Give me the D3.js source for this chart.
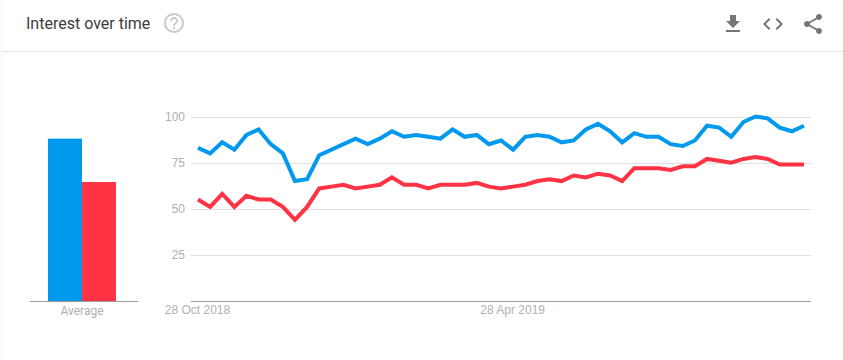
<!DOCTYPE html>
<html>
<head>
<meta charset="utf-8">
<script src="https://cdn.jsdelivr.net/npm/d3@7"></script>
<style>
  html, body { margin: 0; padding: 0; background: #fff; }
  svg { display: block; font-family: Roboto, sans-serif; }
  .tick text { fill: #b0b0b0; font-size: 12px; }
  .domain { display: none; }
</style>
</head>
<body>
<div id="chart"></div>
<script>
const title = "Interest over time";
const seriesColors = ["#0099ee", "#ff3344"];
const weekIndex = d3.range(51);
const blueValues = [83, 80, 86, 82, 90, 93, 85, 80, 65, 66, 79, 82, 85, 88, 85, 88, 92, 89, 90, 89, 88, 93, 89, 90, 85, 87, 82, 89, 90, 89, 86, 87, 93, 96, 92, 86, 91, 89, 89, 85, 84, 87, 95, 94, 89, 97, 100, 99, 94, 92, 95];
const redValues = [55, 51, 58, 51, 57, 55, 55, 51, 44, 51, 61, 62, 63, 61, 62, 63, 67, 63, 63, 61, 63, 63, 63, 64, 62, 61, 62, 63, 65, 66, 65, 68, 67, 69, 68, 65, 72, 72, 72, 71, 73, 73, 77, 76, 75, 77, 78, 77, 74, 74, 74];
const averages = [88, 64.5];
const averageLabel = "Average";
const yTicks = [25, 50, 75, 100];
const xTickWeeks = [0, 26];
const xTickLabels = ["28 Oct 2018", "28 Apr 2019"];

const width = 843, height = 360;
const svg = d3.select("#chart").append("svg")
  .attr("width", width)
  .attr("height", height);

const y = d3.scaleLinear().domain([0, 100]).range([301, 116.5]);
const x = d3.scaleLinear().domain([0, 50]).range([198, 804]);
const barX = d3.scaleBand().domain([0, 1]).range([48, 116]);

// card edges and header
svg.append("line").attr("x1", 1.5).attr("x2", 1.5).attr("y1", 0).attr("y2", height)
  .attr("stroke", "#f2f2f2");
svg.append("line").attr("x1", 2).attr("x2", width).attr("y1", 51.5).attr("y2", 51.5)
  .attr("stroke", "#e4e4e4");

svg.append("text")
  .attr("x", 26).attr("y", 29)
  .attr("font-size", 16)
  .attr("fill", "#3c3c3c")
  .text(title);

const icons = [
  { x: 162, y: 11, fill: "#cccccc", d: "M11 18h2v-2h-2v2zm1-16C6.48 2 2 6.48 2 12s4.48 10 10 10 10-4.48 10-10S17.52 2 12 2zm0 18c-4.41 0-8-3.59-8-8s3.59-8 8-8 8 3.59 8 8-3.59 8-8 8zm0-14c-2.21 0-4 1.79-4 4h2c0-1.1.9-2 2-2s2 .9 2 2c0 2-3 1.75-3 5h2c0-2.25 3-2.5 3-5 0-2.21-1.79-4-4-4z" },
  { x: 721, y: 12, fill: "#757575", d: "M19 9h-4V3H9v6H5l7 7 7-7zM5 18v2h14v-2H5z" },
  { x: 761, y: 12, fill: "#757575", d: "M9.4 16.6L4.8 12l4.6-4.6L8 6l-6 6 6 6 1.4-1.4zm5.2 0l4.6-4.6-4.6-4.6L16 6l6 6-6 6-1.4-1.4z" },
  { x: 801, y: 12, fill: "#757575", d: "M18 16.08c-.76 0-1.44.3-1.96.77L8.91 12.7c.05-.23.09-.46.09-.7s-.04-.47-.09-.7l7.05-4.11c.54.5 1.25.81 2.04.81 1.66 0 3-1.34 3-3s-1.34-3-3-3-3 1.34-3 3c0 .24.04.47.09.7L8.04 9.81C7.5 9.31 6.79 9 6 9c-1.66 0-3 1.34-3 3s1.34 3 3 3c.79 0 1.5-.31 2.04-.81l7.12 4.16c-.05.21-.08.43-.08.65 0 1.61 1.31 2.92 2.92 2.92 1.61 0 2.92-1.31 2.92-2.92s-1.31-2.92-2.92-2.92z" }
];
svg.selectAll(".icon")
  .data(icons)
  .join("path")
  .attr("class", "icon")
  .attr("transform", d => `translate(${d.x},${d.y})`)
  .attr("fill", d => d.fill)
  .attr("d", d => d.d);

// y axis with gridlines
const yAxis = svg.append("g")
  .attr("transform", "translate(191,0)")
  .call(d3.axisLeft(y).tickValues(yTicks).tickSize(0).tickPadding(6));
svg.selectAll(".grid")
  .data(yTicks)
  .join("line")
  .attr("class", "grid")
  .attr("x1", 191).attr("x2", 811)
  .attr("y1", d => Math.round(y(d)) + 0.5)
  .attr("y2", d => Math.round(y(d)) + 0.5)
  .attr("stroke", "#e0e0e0");

// x axis
svg.append("g")
  .attr("transform", "translate(-1,301)")
  .call(d3.axisBottom(x)
    .tickValues(xTickWeeks)
    .tickFormat((d, i) => xTickLabels[i])
    .tickSize(0)
    .tickPadding(4));
svg.append("line").attr("x1", 191).attr("x2", 811).attr("y1", 301.5).attr("y2", 301.5)
  .attr("stroke", "#9e9e9e");

const line = d3.line()
  .x((d, i) => x(weekIndex[i]))
  .y(d => y(d));

svg.selectAll(".series")
  .data([blueValues, redValues])
  .join("path")
  .attr("class", "series")
  .attr("fill", "none")
  .attr("stroke", (d, i) => seriesColors[i])
  .attr("stroke-width", 4)
  .attr("stroke-linejoin", "miter")
  .attr("d", line);

// average bars
svg.selectAll(".avg-bar")
  .data(averages)
  .join("rect")
  .attr("class", "avg-bar")
  .attr("x", (d, i) => barX(i))
  .attr("width", barX.bandwidth())
  .attr("y", d => y(d))
  .attr("height", d => y(0) - y(d))
  .attr("fill", (d, i) => seriesColors[i]);
svg.append("line").attr("x1", 30).attr("x2", 138).attr("y1", 301.5).attr("y2", 301.5)
  .attr("stroke", "#9e9e9e");
svg.append("text")
  .attr("x", 82).attr("y", 315)
  .attr("text-anchor", "middle")
  .attr("font-size", 12)
  .attr("fill", "#b0b0b0")
  .text(averageLabel);
</script>
</body>
</html>
